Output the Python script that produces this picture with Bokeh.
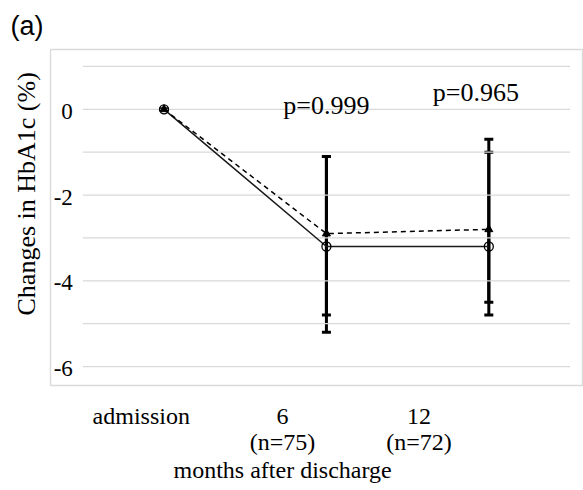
from bokeh.plotting import figure
from bokeh.models import (ColumnDataSource, Whisker, TeeHead, FixedTicker, Title, Range1d)
from bokeh.core.properties import value
from bokeh.embed import file_html
from bokeh.resources import INLINE

# ---- data ----
x_pos = [0, 1, 2]
solid_mean = [0.0, -3.2, -3.2]
solid_upper = [0.0, -1.1, -1.0]
solid_lower = [0.0, -5.2, -4.8]
dashed_mean = [0.0, -2.9, -2.8]
dashed_upper = [0.0, -1.1, -0.7]
dashed_lower = [0.0, -4.8, -4.5]

x_tick_pos = [-0.14, 0.73, 1.57]
x_tick_labels = ["admission", "6\n(n=75)", "12\n(n=72)"]
y_ticks = [-6, -5, -4, -3, -2, -1, 0, 1]
y_label_ticks = [-6, -4, -2, 0]
y_label_texts = ["-6", "-4", "-2", "0"]
p_texts = ["p=0.999", "p=0.965"]
p_x = [1, 2]

SERIF = "Liberation Serif"
GRID = "#d9d9d9"

# plot area spans x -0.5..2.5 and y -6..1; the frame is the outer chart box
p = figure(width=583, height=490, output_backend="svg", toolbar_location=None,
           x_range=Range1d(-0.699, 2.583), y_range=Range1d(-6.442, 1.395),
           min_border_left=48, min_border_right=0, min_border_top=48,
           min_border_bottom=105)
p.outline_line_color = GRID
p.outline_line_width = 1.3
p.background_fill_color = "white"
p.border_fill_color = "white"
p.xgrid.visible = False
p.ygrid.visible = False
p.yaxis.visible = False

# gridlines across the plot area
p.segment(x0=[-0.5] * len(y_ticks), x1=[2.5] * len(y_ticks), y0=y_ticks, y1=y_ticks,
          line_color=GRID, line_width=1.3)

# y tick labels (inside the chart box)
p.text(x=[-0.5] * len(y_label_ticks), y=y_label_ticks, text=y_label_texts,
       x_offset=-10, y_offset=2, text_align="right", text_baseline="middle",
       text_font=value(SERIF), text_font_size="23px", text_color="black")

# x axis
p.xaxis.ticker = FixedTicker(ticks=x_tick_pos)
p.xaxis.major_label_overrides = {t: l for t, l in zip(x_tick_pos, x_tick_labels)}
p.xaxis.axis_line_color = None
p.xaxis.major_tick_line_color = None
p.xaxis.minor_tick_line_color = None
p.xaxis.major_tick_out = 0
p.xaxis.major_tick_in = 0
p.xaxis.major_label_standoff = 17
p.xaxis.major_label_text_font = SERIF
p.xaxis.major_label_text_font_size = "24px"
p.xaxis.major_label_text_color = "black"
p.xaxis.major_label_text_line_height = 1.0
p.xaxis.axis_label_standoff = 0

# titles
p.add_layout(Title(text="Changes in HbA1c (%)", align="left", offset=70,
                   text_font=SERIF, text_font_size="26px", text_font_style="normal",
                   text_color="black", standoff=19), "left")
p.add_layout(Title(text="months after discharge", align="left", offset=123,
                   text_font=SERIF, text_font_size="24px", text_font_style="normal",
                   text_color="black", standoff=-6), "below")
p.add_layout(Title(text="(a)", align="left", offset=-40,
                   text_font="Liberation Sans", text_font_size="27px",
                   text_font_style="normal", text_color="black", standoff=17), "above")

# series
src_s = ColumnDataSource(dict(x=x_pos, y=solid_mean, upper=solid_upper, lower=solid_lower))
src_d = ColumnDataSource(dict(x=x_pos, y=dashed_mean, upper=dashed_upper, lower=dashed_lower))

for src in (src_s, src_d):
    w = Whisker(source=src, base="x", upper="upper", lower="lower",
                line_color="black", line_width=3, level="underlay",
                upper_head=TeeHead(size=9, line_width=3, line_color="black"),
                lower_head=TeeHead(size=9, line_width=3, line_color="black"))
    p.add_layout(w)

p.line("x", "y", source=src_s, line_color="#1a1a1a", line_width=1.5)
p.line("x", "y", source=src_d, line_color="black", line_width=1.5, line_dash="5 4")
p.scatter("x", "y", source=src_d, marker="triangle", size=8, fill_color="black",
          line_color="black")
p.scatter("x", "y", source=src_s, marker="circle", size=9, fill_color=None,
          line_color="black", line_width=1.3)

# p-values
p.text(x=p_x, y=[0, 0], text=p_texts, x_offset=[0, -13], y_offset=[-4, -17],
       text_font=value(SERIF), text_font_size="26px", text_align="center",
       text_baseline="alphabetic", text_color="black")

open("out.html", "w").write(file_html(p, INLINE))
